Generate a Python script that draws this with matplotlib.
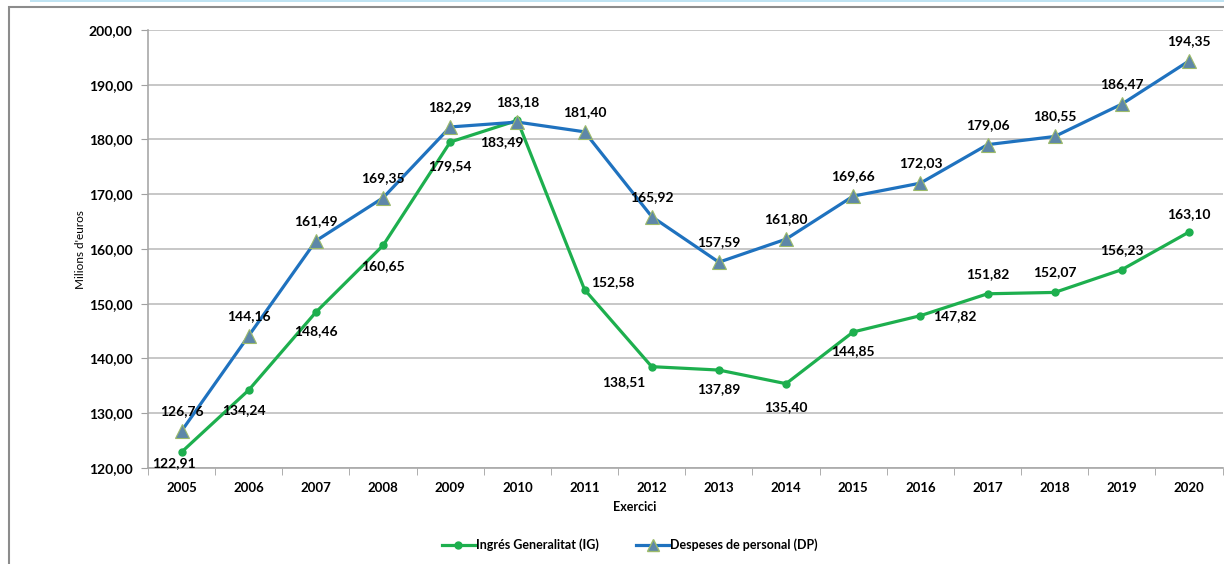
import matplotlib.pyplot as plt
from matplotlib.patches import Rectangle
from matplotlib.lines import Line2D

years = ['2005', '2006', '2007', '2008', '2009', '2010', '2011', '2012',
         '2013', '2014', '2015', '2016', '2017', '2018', '2019', '2020']
ingres_ig = [122.91, 134.24, 148.46, 160.65, 179.54, 183.49, 152.58, 138.51,
             137.89, 135.40, 144.85, 147.82, 151.82, 152.07, 156.23, 163.10]
despeses_dp = [126.76, 144.16, 161.49, 169.35, 182.29, 183.18, 181.40, 165.92,
               157.59, 161.80, 169.66, 172.03, 179.06, 180.55, 186.47, 194.35]
y_ticks = [120, 130, 140, 150, 160, 170, 180, 190, 200]

# label offsets in pixels (dx, dy), up is positive
green_off = [(-8, -11), (-5, -20), (0, -19), (0, -21), (0, -24), (-16, -22),
             (28, 8), (-28, -15), (0, -19), (0, -23), (0, -19), (34, 0),
             (0, 20), (0, 20), (0, 20), (0, 18)]
blue_off = [(0, 20)] * 16

GREEN = '#1DAF4E'
BLUE = '#1F72BF'
FONT = 'Lato'


def fmt(v):
    return f'{v:.2f}'.replace('.', ',')


fig = plt.figure(figsize=(12.24, 5.64), dpi=100)
ax = fig.add_axes([148 / 1224, 1 - 468 / 564, (1222.6 - 148) / 1224, (468 - 30) / 564])

x = list(range(len(years)))
ax.plot(x, ingres_ig, color=GREEN, lw=2.3, marker='o', ms=5, mfc=GREEN, mec=GREEN, zorder=3)
ax.plot(x, despeses_dp, color=BLUE, lw=2.3, marker='^', ms=10, mfc='#5E87A8', mec='#9DBB6A',
        mew=0.8, zorder=4)

for i, v in enumerate(ingres_ig):
    ax.annotate(fmt(v), (i, v), xytext=green_off[i], textcoords='offset pixels',
                ha='center', va='center', fontsize=10, fontweight='bold', family=FONT, zorder=5)
for i, v in enumerate(despeses_dp):
    ax.annotate(fmt(v), (i, v), xytext=blue_off[i], textcoords='offset pixels',
                ha='center', va='center', fontsize=10, fontweight='bold', family=FONT, zorder=5)

ax.set_xlim(-0.5, len(years) - 0.5)
ax.set_ylim(120, 200)
ax.set_yticks(y_ticks)
ax.set_yticklabels([fmt(t) for t in y_ticks], fontsize=10, fontweight='bold', family=FONT)
ax.set_xticks(x)
ax.set_xticklabels(years, fontsize=9.5, fontweight='bold', family=FONT)
ax.tick_params(axis='x', length=0, pad=10)
ax.set_xticks([i - 0.5 for i in range(len(years) + 1)], minor=True)
ax.tick_params(axis='x', which='minor', length=5, color='#A0A0A0', direction='out')
ax.tick_params(axis='y', length=5, color='#A0A0A0', pad=6)

ax.grid(axis='y', color='#BEBEBE', lw=1.2)
ax.set_axisbelow(True)
for s in ['top', 'right']:
    ax.spines[s].set_visible(False)
for s in ['left', 'bottom']:
    ax.spines[s].set_color('#A8A8A8')
    ax.spines[s].set_linewidth(1.2)

fig.text(80 / 1224, 1 - 250 / 564, "Milions d'euros", rotation=90, ha='center', va='center',
         fontsize=8.5, family=FONT)
fig.text(635 / 1224, 1 - 507 / 564, 'Exercici', ha='center', va='center',
         fontsize=9, fontweight='bold', family=FONT)

handles = [Line2D([], [], color=GREEN, lw=2.3, marker='o', ms=5),
           Line2D([], [], color=BLUE, lw=2.3, marker='^', ms=8, mfc='#5E87A8', mec='#9DBB6A')]
fig.legend(handles, ['Ingrés Generalitat (IG)', 'Despeses de personal (DP)'],
           loc='center', bbox_to_anchor=(630 / 1224, 1 - 545 / 564), ncol=2, frameon=False,
           handlelength=2.6, columnspacing=3.0, handletextpad=0.1,
           prop={'family': FONT, 'weight': 'bold', 'size': 9})

# outer chart frame (only left and top edges show) and top strip
fig.add_artist(Rectangle((9 / 1224, -0.2), 1.2, 1.2 - 7 / 564, transform=fig.transFigure,
                         fill=False, ec='#8C8C8C', lw=1.5))
fig.add_artist(Rectangle((30 / 1224, 1 - 2 / 564), 1, 2 / 564, transform=fig.transFigure,
                         color='#BFE3F2', lw=0))

fig.savefig('out.png', dpi=100)
